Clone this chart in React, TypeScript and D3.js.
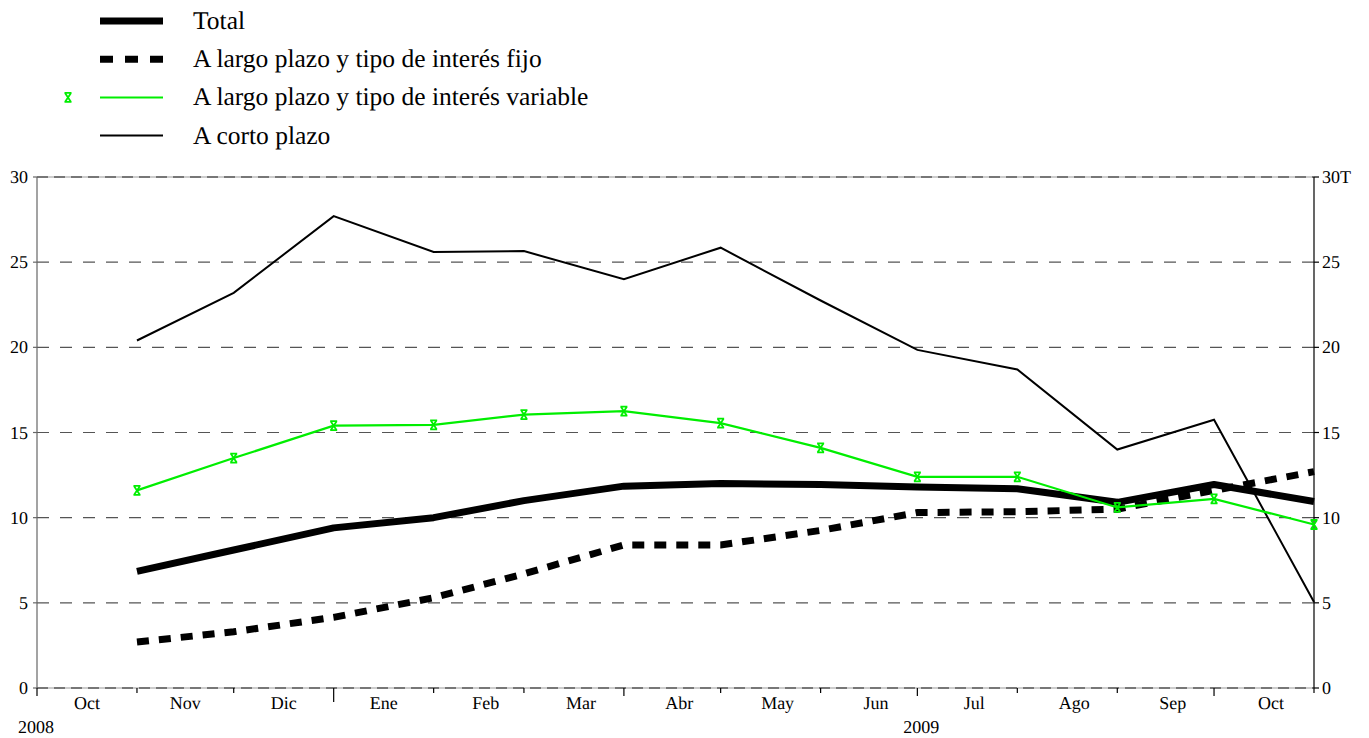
import React from 'react';
import * as d3 from 'd3';

// fin de mes (se dibuja el 1 del mes siguiente)
const dates = [
  '2008-11-01', '2008-12-01', '2009-01-01', '2009-02-01', '2009-03-01', '2009-04-01', '2009-05-01',
  '2009-06-01', '2009-07-01', '2009-08-01', '2009-09-01', '2009-10-01', '2009-11-01',
];
const monthLabels = ['Oct', 'Nov', 'Dic', 'Ene', 'Feb', 'Mar', 'Abr', 'May', 'Jun', 'Jul', 'Ago', 'Sep', 'Oct'];
const yearLabels = [
  { text: '2008', date: '2008-10-01', dx: -19 },
  { text: '2009', date: '2009-07-01', dx: -14 },
];
const yTicks = [0, 5, 10, 15, 20, 25, 30];

const total = [6.85, 8.1, 9.4, 10.0, 11.0, 11.85, 12.0, 11.95, 11.8, 11.7, 10.9, 11.95, 10.95];
const fijo = [2.7, 3.3, 4.15, 5.3, 6.7, 8.4, 8.4, 9.25, 10.3, 10.35, 10.5, 11.6, 12.7];
const variable = [11.6, 13.5, 15.4, 15.45, 16.05, 16.25, 15.55, 14.1, 12.4, 12.4, 10.6, 11.1, 9.6];
const corto = [20.4, 23.2, 27.7, 25.6, 25.65, 24.0, 25.85, 22.75, 19.85, 18.7, 14.0, 15.75, 5.05];

const legendItems = [
  { label: 'Total', kind: 'total' },
  { label: 'A largo plazo y tipo de interés fijo', kind: 'fijo' },
  { label: 'A largo plazo y tipo de interés variable', kind: 'variable' },
  { label: 'A corto plazo', kind: 'corto' },
];

const W = 1369;
const H = 738;
const margin = { left: 37, right: 55, top: 177, bottom: 50 };
const GREEN = '#00ee00';
const serif: React.CSSProperties = { fontFamily: 'Liberation Serif', textRendering: 'geometricPrecision' };

const parse = d3.timeParse('%Y-%m-%d');

const marker = (cx: number, cy: number) =>
  `M${cx - 3},${cy - 4.5}L${cx + 3},${cy + 4.5}M${cx + 3},${cy - 4.5}L${cx - 3},${cy + 4.5}` +
  `M${cx - 3.5},${cy - 4.5}H${cx + 3.5}M${cx - 3.5},${cy + 4.5}H${cx + 3.5}`;

export default function App() {
  const x = d3
    .scaleTime()
    .domain([parse('2008-10-01')!, parse('2009-11-01')!])
    .range([margin.left, W - margin.right]);
  const y = d3.scaleLinear().domain([0, 30]).range([H - margin.bottom, margin.top]);
  const y0 = y(0);

  const pts = dates.map((d) => parse(d)!);
  const line = d3
    .line<number>()
    .x((_, i) => x(pts[i]))
    .y((v) => y(v));

  const months = d3.timeMonth.range(x.domain()[0], d3.timeMonth.offset(x.domain()[1], 1));
  const x0 = margin.left;
  const x1 = W - margin.right;

  return (
    <svg width={W} height={H} style={{ position: 'absolute', left: 0, top: 0, background: '#fff' }}>
      {/* legend */}
      {legendItems.map((it, i) => {
        const ly = 21 + i * 38.2;
        return (
          <g key={it.kind}>
            {it.kind === 'total' && <line x1={100} x2={163} y1={ly} y2={ly} stroke="#000" strokeWidth={7} />}
            {it.kind === 'fijo' && (
              <line x1={100} x2={163} y1={ly} y2={ly} stroke="#000" strokeWidth={7} strokeDasharray="13,12" />
            )}
            {it.kind === 'variable' && (
              <>
                <line x1={100} x2={163} y1={ly} y2={ly} stroke={GREEN} strokeWidth={2} />
                <path d={marker(68, ly)} stroke={GREEN} strokeWidth={1.8} fill="none" />
              </>
            )}
            {it.kind === 'corto' && <line x1={100} x2={163} y1={ly} y2={ly} stroke="#000" strokeWidth={2} />}
            <text x={193} y={ly + 8} fontSize={25.5} fill="#000" style={serif}>
              {it.label}
            </text>
          </g>
        );
      })}

      {/* grid */}
      {yTicks.map((t) => {
        const edge = t === 0 || t === 30;
        return (
          <g key={t}>
            {edge && <line x1={x0} x2={x1} y1={y(t)} y2={y(t)} stroke="#999" strokeWidth={1.2} />}
            <line
              x1={x0}
              x2={x1}
              y1={y(t)}
              y2={y(t)}
              stroke={edge ? '#222' : '#555'}
              strokeWidth={1.2}
              strokeDasharray={edge ? '11,6' : '12,11'}
            />
          </g>
        );
      })}

      {/* axes */}
      <line x1={x0} x2={x0} y1={y(30)} y2={y0} stroke="#666" strokeWidth={1.2} />
      <line x1={x1} x2={x1} y1={y(30)} y2={y0} stroke="#000" strokeWidth={1.2} />
      {yTicks.map((t) => (
        <g key={'yl' + t}>
          <line x1={x0 - 4} x2={x0} y1={y(t)} y2={y(t)} stroke="#666" strokeWidth={1.2} />
          <line x1={x1} x2={x1 + 5} y1={y(t)} y2={y(t)} stroke="#000" strokeWidth={1.2} />
          <text x={x0 - 9} y={y(t) + 6} textAnchor="end" fontSize={18} style={serif}>
            {t}
          </text>
          <text x={x1 + 8} y={y(t) + 6} fontSize={18} style={serif}>
            {t === 30 ? '30T' : t}
          </text>
        </g>
      ))}

      {/* x ticks */}
      {months.map((m) => {
        const mo = m.getMonth();
        const len = mo === 0 ? 14 : mo % 3 === 0 ? 8 : 5;
        return <line key={+m} x1={x(m)} x2={x(m)} y1={y0} y2={y0 + len} stroke="#000" strokeWidth={1.2} />;
      })}
      {months.slice(0, -1).map((m, i) => {
        const next = d3.timeMonth.offset(m, 1);
        return (
          <text
            key={'ml' + i}
            x={(x(m) + x(next)) / 2 + (i > 3 ? 7 : 0)}
            y={y0 + 21}
            textAnchor="middle"
            fontSize={18}
            style={serif}
          >
            {monthLabels[i]}
          </text>
        );
      })}
      {yearLabels.map((yl) => (
        <text key={yl.text} x={x(parse(yl.date)!) + yl.dx} y={y0 + 45} fontSize={18} style={serif}>
          {yl.text}
        </text>
      ))}

      {/* series */}
      <path d={line(corto)!} fill="none" stroke="#000" strokeWidth={2} strokeLinejoin="miter" />
      <path d={line(fijo)!} fill="none" stroke="#000" strokeWidth={7} strokeDasharray="12,10" />
      <path d={line(total)!} fill="none" stroke="#000" strokeWidth={7} strokeLinejoin="round" />
      <path d={line(variable)!} fill="none" stroke={GREEN} strokeWidth={2.2} />
      {variable.map((v, i) => (
        <path key={'mk' + i} d={marker(x(pts[i]), y(v))} stroke={GREEN} strokeWidth={1.8} fill="none" />
      ))}
    </svg>
  );
}
